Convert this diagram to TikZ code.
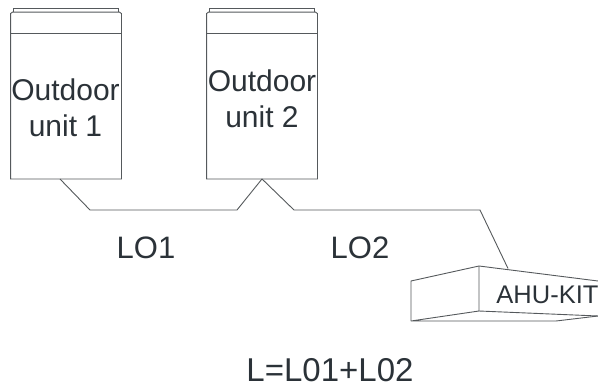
\documentclass[tikz,border=0pt]{standalone}
\usepackage{fontspec}
\setmainfont{Liberation Sans}
\definecolor{linegray}{HTML}{55595C}
\definecolor{textgray}{HTML}{2B3238}
\begin{document}
\begin{tikzpicture}[x=1pt, y=-1pt, line width=0.9pt, draw=linegray, text=textgray,
    unitbody/.style={minimum width=110pt, minimum height=166pt, inner sep=0pt},
    unittext/.style={align=center, font=\fontsize{30}{36.5}\selectfont, inner sep=0pt},
    labeltext/.style={font=\fontsize{31}{35}\selectfont, inner sep=0pt}]
  \useasboundingbox (0, 0) rectangle (598, 391);

  % outdoor units
  \foreach \i/\xpos in {1/66, 2/262} {
    \node[unitbody] (U\i) at (\xpos, 95.5) {};
    \draw (U\i.south west) -- ([yshift=-1.5pt]U\i.north west) -- ([xshift=2pt]U\i.north west)
      -- ([xshift=-2pt]U\i.north east) -- ([yshift=-1.5pt]U\i.north east) -- (U\i.south east) -- cycle;
    \draw ([xshift=3pt]U\i.north west) -- ([xshift=3pt, yshift=4pt]U\i.north west)
      -- ([xshift=-3pt, yshift=4pt]U\i.north east) -- ([xshift=-3pt]U\i.north east);
    \draw ([yshift=-21.5pt]U\i.north west) -- ([yshift=-21.5pt]U\i.north east);
  }
  \node[unittext] (T1) at (65.5, 108) {Outdoor\\unit 1};
  \node[unittext] (T2) at (262, 98.7) {Outdoor\\unit 2};

  % indoor unit
  \node[inner sep=0pt, font=\fontsize{25.5}{30}\selectfont, anchor=base west] (K) at (496, 303) {AHU-KIT};
  \coordinate (KA) at (411, 281);
  \coordinate (KB) at (479, 266);
  \coordinate (KC) at (598, 281);
  \coordinate (KD) at (479, 311);
  \coordinate (KE) at (411, 321);
  \coordinate (KF) at (556, 321);
  \coordinate (KG) at (598, 316);
  \coordinate (KT) at (508, 268.5);
  \draw (KE) -- (KA) -- (KB) -- (KC);
  \draw (KB) -- (KD) -- (KE) -- (KF) -- (KG);
  \draw (KD) -- (KG);

  % piping
  \coordinate (P1) at (60, 179);
  \coordinate (P2) at (90, 210);
  \coordinate (P3) at (237, 210);
  \coordinate (P4) at (294, 210);
  \coordinate (P5) at (480, 210);
  \draw (P1) -- (P2) -- (P3) -- (U2.south);
  \draw (U2.south) -- (P4) -- (P5) -- (KT);

  \node[labeltext] (LA) at (146, 248) {LO1};
  \node[labeltext] (LB) at (360, 248) {LO2};
  \node[labeltext, font=\fontsize{33}{37}\selectfont] (LC) at (330, 370) {L=L01+L02};
\end{tikzpicture}
\end{document}
